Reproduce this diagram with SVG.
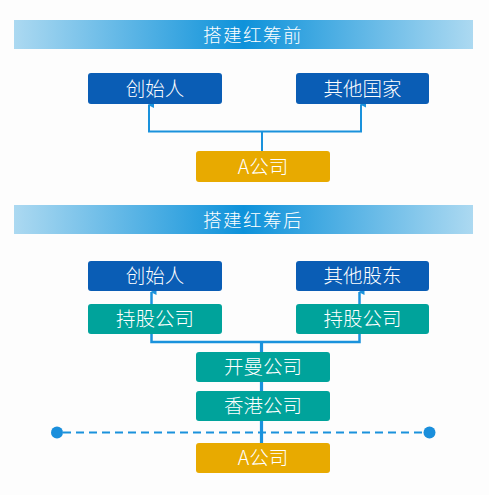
<svg xmlns="http://www.w3.org/2000/svg" width="489" height="495" viewBox="0 0 489 495">
<style>
text{font-family:"Noto Sans CJK SC","Noto Sans",sans-serif;fill:#fff;text-anchor:middle;dominant-baseline:central;font-weight:300}
.t{font-size:18.5px;letter-spacing:1.5px}
.n{font-size:19.5px}
.blue{fill:#0a5db5}
.teal{fill:#00a39b}
.gold{fill:#e8aa00}
.ln{fill:none;stroke:#1a92dc;stroke-linejoin:miter}
</style>
<defs>
<linearGradient id="hg" x1="0" y1="0" x2="1" y2="0">
<stop offset="0" stop-color="#acd9f1"/>
<stop offset="0.5" stop-color="#0e92da"/>
<stop offset="1" stop-color="#acd9f1"/>
</linearGradient>
<marker id="ah" viewBox="0 0 6 6" refX="3" refY="1" markerWidth="6" markerHeight="6" markerUnits="userSpaceOnUse" orient="auto-start-reverse">
<path d="M0,6 L3,0 L6,6 Z" fill="#1a92dc"/>
</marker>
</defs>
<rect width="489" height="495" fill="#fdfdfd"/>

<g id="header1"><rect x="14" y="20" width="459" height="29" fill="url(#hg)"/><text class="t" x="253" y="33.5">搭建红筹前</text></g>
<g id="header2"><rect x="14" y="205" width="459" height="29" fill="url(#hg)"/><text class="t" x="253" y="218.5">搭建红筹后</text></g>

<g id="connectors">
<path class="ln" stroke-width="2" d="M262,151 V131.5 M149,104.5 V131.5 H361 V104.5" marker-end="url(#ah)"/>
<path class="ln" stroke-width="2" d="M149,131.5 V105" marker-end="url(#ah)"/>
<path class="ln" stroke-width="2.5" d="M151.5,334 V342 H359.5 V334"/>
<path class="ln" stroke-width="2.5" d="M151.5,304 V292" marker-end="url(#ah)"/>
<path class="ln" stroke-width="2.5" d="M359.5,304 V292" marker-end="url(#ah)"/>
<path class="ln" stroke-width="3.2" d="M261.5,342 V443"/>
<path class="ln" stroke-width="2" stroke-dasharray="8 5" d="M63,432.5 H424"/>
<circle cx="57" cy="432.5" r="6" fill="#1a8fdc"/>
<circle cx="429.5" cy="432.5" r="6" fill="#1a8fdc"/>
</g>

<g id="n-founder1"><rect class="blue" x="88" y="73" width="134" height="31" rx="3"/><text class="n" x="155" y="87">创始人</text></g>
<g id="n-others1"><rect class="blue" x="296" y="73" width="133" height="31" rx="3"/><text class="n" x="362.5" y="87">其他国家</text></g>
<g id="n-a1"><rect class="gold" x="196" y="151" width="134" height="31" rx="3"/><text class="n" x="263" y="165">A公司</text></g>

<g id="n-founder2"><rect class="blue" x="88" y="261" width="134" height="30" rx="3"/><text class="n" x="155" y="274.5">创始人</text></g>
<g id="n-others2"><rect class="blue" x="296" y="261" width="133" height="30" rx="3"/><text class="n" x="362.5" y="274.5">其他股东</text></g>
<g id="n-hold1"><rect class="teal" x="88" y="304" width="134" height="30" rx="3"/><text class="n" x="155" y="317.5">持股公司</text></g>
<g id="n-hold2"><rect class="teal" x="296" y="304" width="133" height="30" rx="3"/><text class="n" x="362.5" y="317.5">持股公司</text></g>
<g id="n-cayman"><rect class="teal" x="196" y="352" width="134" height="30" rx="3"/><text class="n" x="263" y="365.5">开曼公司</text></g>
<g id="n-hk"><rect class="teal" x="196" y="391" width="134" height="30" rx="3"/><text class="n" x="263" y="404.5">香港公司</text></g>
<g id="n-a2"><rect class="gold" x="196" y="443" width="134" height="30" rx="3"/><text class="n" x="263" y="456.5">A公司</text></g>
</svg>
